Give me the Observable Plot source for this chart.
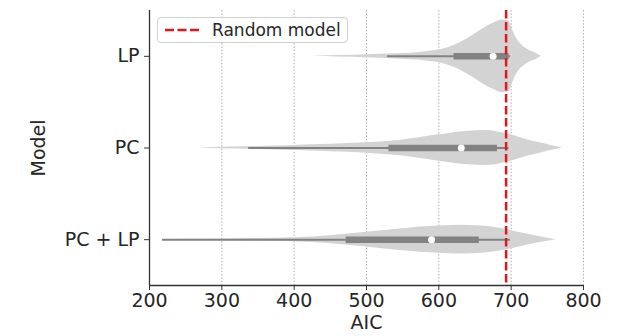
<!DOCTYPE html>
<html>
<head>
<meta charset="utf-8">
<script src="https://cdn.jsdelivr.net/npm/d3@7"></script>
<script src="https://cdn.jsdelivr.net/npm/@observablehq/plot@0.6"></script>
<style>
  body { margin: 0; background: #fff; }
  #wrap { position: relative; width: 618px; height: 336px; font-family: "DejaVu Sans", sans-serif; }
  #legend {
    position: absolute; left: 157px; top: 17px; width: 191px; height: 26px;
    border: 1px solid #d0d0d0; border-radius: 4px; background: rgba(255,255,255,0.85);
    display: flex; align-items: center; box-sizing: border-box;
  }
  #legend span { font-size: 17px; color: #262626; margin-left: 11px; white-space: nowrap; }
</style>
</head>
<body>
<div id="wrap"></div>
<script>
// ---- data ----
const models = ["LP", "PC", "PC + LP"];
const xTicks = [200, 300, 400, 500, 600, 700, 800];
const gridTicks = [300, 400, 500, 600, 700, 800];
const randomModelAIC = 693;

// violin profiles: [AIC, relative density]
const lpProfile = [[425,0],[460,0.02],[500,0.04],[540,0.07],[580,0.12],[610,0.22],[630,0.38],[645,0.55],[660,0.74],[675,0.9],[688,0.99],[697,0.96],[702,0.72],[708,0.47],[715,0.3],[725,0.16],[735,0.08],[742,0]];
const pcProfile = [[270,0],[300,0.02],[350,0.04],[400,0.07],[450,0.1],[500,0.14],[550,0.22],[600,0.36],[640,0.46],[665,0.48],[695,0.38],[710,0.3],[723,0.22],[740,0.14],[755,0.07],[771,0]];
const pclpProfile = [[218,0],[250,0.01],[300,0.02],[350,0.035],[400,0.055],[450,0.11],[500,0.2],[550,0.3],[600,0.37],[630,0.39],[660,0.37],[695,0.27],[720,0.16],[740,0.08],[762,0]];

// box statistics per model (same order as models)
const whiskerLow  = [529, 337, 218];
const quartile1   = [621, 531, 472];
const medians     = [675, 631, 590];
const quartile3   = [697, 681, 656];
const whiskerHigh = [699, 697, 699];

// ---- build tables ----
const profiles = [lpProfile, pcProfile, pclpProfile];
const violinRows = profiles.flatMap((p, i) => p.map(([aic, dens]) => ({model: models[i], idx: i, aic, dens})));
const boxRows = models.map((m, i) => ({model: m, idx: i, lo: whiskerLow[i], q1: quartile1[i], med: medians[i], q3: quartile3[i], hi: whiskerHigh[i]}));
const halfWidth = 0.4;

const chart = Plot.plot({
  width: 618,
  height: 336,
  marginLeft: 149,
  marginRight: 35,
  marginTop: 10,
  marginBottom: 51,
  style: {fontFamily: "DejaVu Sans, sans-serif", fontSize: "19px", color: "#262626", background: "white"},
  x: {domain: [200, 800]},
  y: {domain: [-0.5, 2.5], reverse: true},
  marks: [
    Plot.ruleX(gridTicks, {stroke: "#9a9a9a", strokeWidth: 0.8, strokeDasharray: "1.5,1.8"}),
    Plot.areaY(violinRows, {
      x: "aic",
      y1: d => d.idx - halfWidth * d.dens,
      y2: d => d.idx + halfWidth * d.dens,
      z: "model", fill: "#d3d3d3", curve: "monotone-x"
    }),
    Plot.ruleY(boxRows, {y: "idx", x1: "lo", x2: "hi", stroke: "#828282", strokeWidth: 2}),
    Plot.ruleY(boxRows, {y: "idx", x1: "q1", x2: "q3", stroke: "#828282", strokeWidth: 6.5}),
    Plot.dot(boxRows, {x: "med", y: "idx", r: 3.5, fill: "white", stroke: "none"}),
    Plot.ruleX([randomModelAIC], {stroke: "#e8141c", strokeWidth: 2.5, strokeDasharray: "8.5,3.5"}),
    Plot.ruleX([200], {stroke: "#333", strokeWidth: 1.3}),
    Plot.ruleY([2.5], {x1: 200, x2: 800, stroke: "#333", strokeWidth: 1.3}),
    Plot.axisX({ticks: xTicks, tickSize: 5, tickPadding: 3, label: null, stroke: "#333"}),
    Plot.axisY({ticks: [0, 1, 2], tickFormat: i => models[i], tickSize: 5, tickPadding: 5, label: null, stroke: "#333"}),
    Plot.text(["AIC"], {frameAnchor: "bottom", dy: 37, fontSize: 19, fill: "#262626", lineAnchor: "middle"}),
    Plot.text(["Model"], {frameAnchor: "left", dx: -111, rotate: -90, fontSize: 19, fill: "#262626", textAnchor: "middle", lineAnchor: "middle"})
  ]
});

const wrap = document.getElementById("wrap");
wrap.appendChild(chart);

// legend
const legend = document.createElement("div");
legend.id = "legend";
legend.innerHTML = '<svg width="36" height="6" style="margin-left:7px"><line x1="0" y1="3" x2="35" y2="3" stroke="#e8141c" stroke-width="2.5" stroke-dasharray="9,3.5"/></svg><span>Random model</span>';
wrap.appendChild(legend);
</script>
</body>
</html>
